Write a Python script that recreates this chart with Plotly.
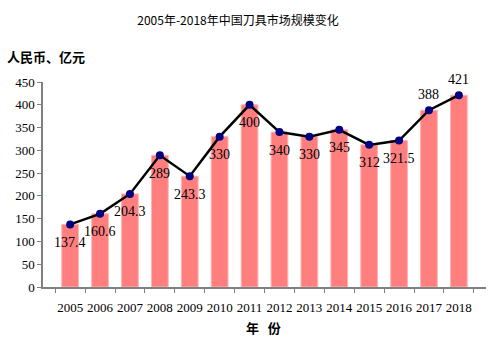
import plotly.graph_objects as go

years = ["2005", "2006", "2007", "2008", "2009", "2010", "2011", "2012",
         "2013", "2014", "2015", "2016", "2017", "2018"]
values = [137.4, 160.6, 204.3, 289, 243.3, 330, 400, 340, 330, 345, 312, 321.5, 388, 421]
labels = ["137.4", "160.6", "204.3", "289", "243.3", "330", "400", "340",
          "330", "345", "312", "321.5", "388", "421"]
label_above = [False] * 12 + [True] * 2

serif = "Liberation Serif, Noto Sans CJK SC, serif"
cjk = "Noto Sans CJK SC, sans-serif"

fig = go.Figure()
fig.add_trace(go.Bar(
    x=years, y=values,
    marker=dict(color="#FF7F7F", line=dict(color="#FFB3B3", width=1)),
    width=0.56, hoverinfo="skip", showlegend=False,
))
fig.add_trace(go.Scatter(
    x=years, y=values, mode="lines+markers",
    line=dict(color="black", width=2.5),
    marker=dict(color="#000080", size=8),
    showlegend=False, cliponaxis=False,
))

annotations = []
for i, (v, lab, above) in enumerate(zip(values, labels, label_above)):
    annotations.append(dict(
        x=i, y=v, xref="x", yref="y", text=lab, showarrow=False,
        xanchor="center", yanchor="middle", yshift=16 if above else -18,
        font=dict(family=serif, size=14, color="black"),
    ))

plot_w = 500 - 43 - 14
plot_h = 345 - 82 - 58
annotations.append(dict(text="<b>人民币、亿元</b>", x=(5 - 43) / plot_w,
                        y=(345 - 58 - 57) / plot_h, xref="paper", yref="paper",
                        showarrow=False, xanchor="left", yanchor="middle",
                        font=dict(family=cjk, size=13, color="black")))
annotations.append(dict(text="<b>年   份</b>", x=(263 - 43) / plot_w,
                        y=(345 - 58 - 327) / plot_h, xref="paper", yref="paper",
                        showarrow=False, xanchor="center", yanchor="middle",
                        font=dict(family=cjk, size=13, color="black")))

fig.update_layout(
    width=500, height=345,
    margin=dict(l=43, r=14, t=82, b=58),
    paper_bgcolor="white", plot_bgcolor="white",
    title=dict(text="2005年-2018年中国刀具市场规模变化", x=0.476, xanchor="center",
               y=0.94, yanchor="middle",
               font=dict(family=cjk, size=12, color="black")),
    xaxis=dict(type="category", showgrid=False, showline=True, linecolor="#808080",
               linewidth=1.5, ticks="outside", ticklen=4, tickcolor="#808080",
               tickson="boundaries", tickangle=0, ticklabelstandoff=8,
               tickfont=dict(family=serif, size=13, color="black")),
    yaxis=dict(range=[0, 450], dtick=50, showgrid=False, showline=True,
               linecolor="#808080", linewidth=1.5, ticks="outside", ticklen=4,
               tickcolor="#808080",
               tickfont=dict(family=serif, size=13, color="black")),
    annotations=annotations,
)

fig.write_html("out.html")
